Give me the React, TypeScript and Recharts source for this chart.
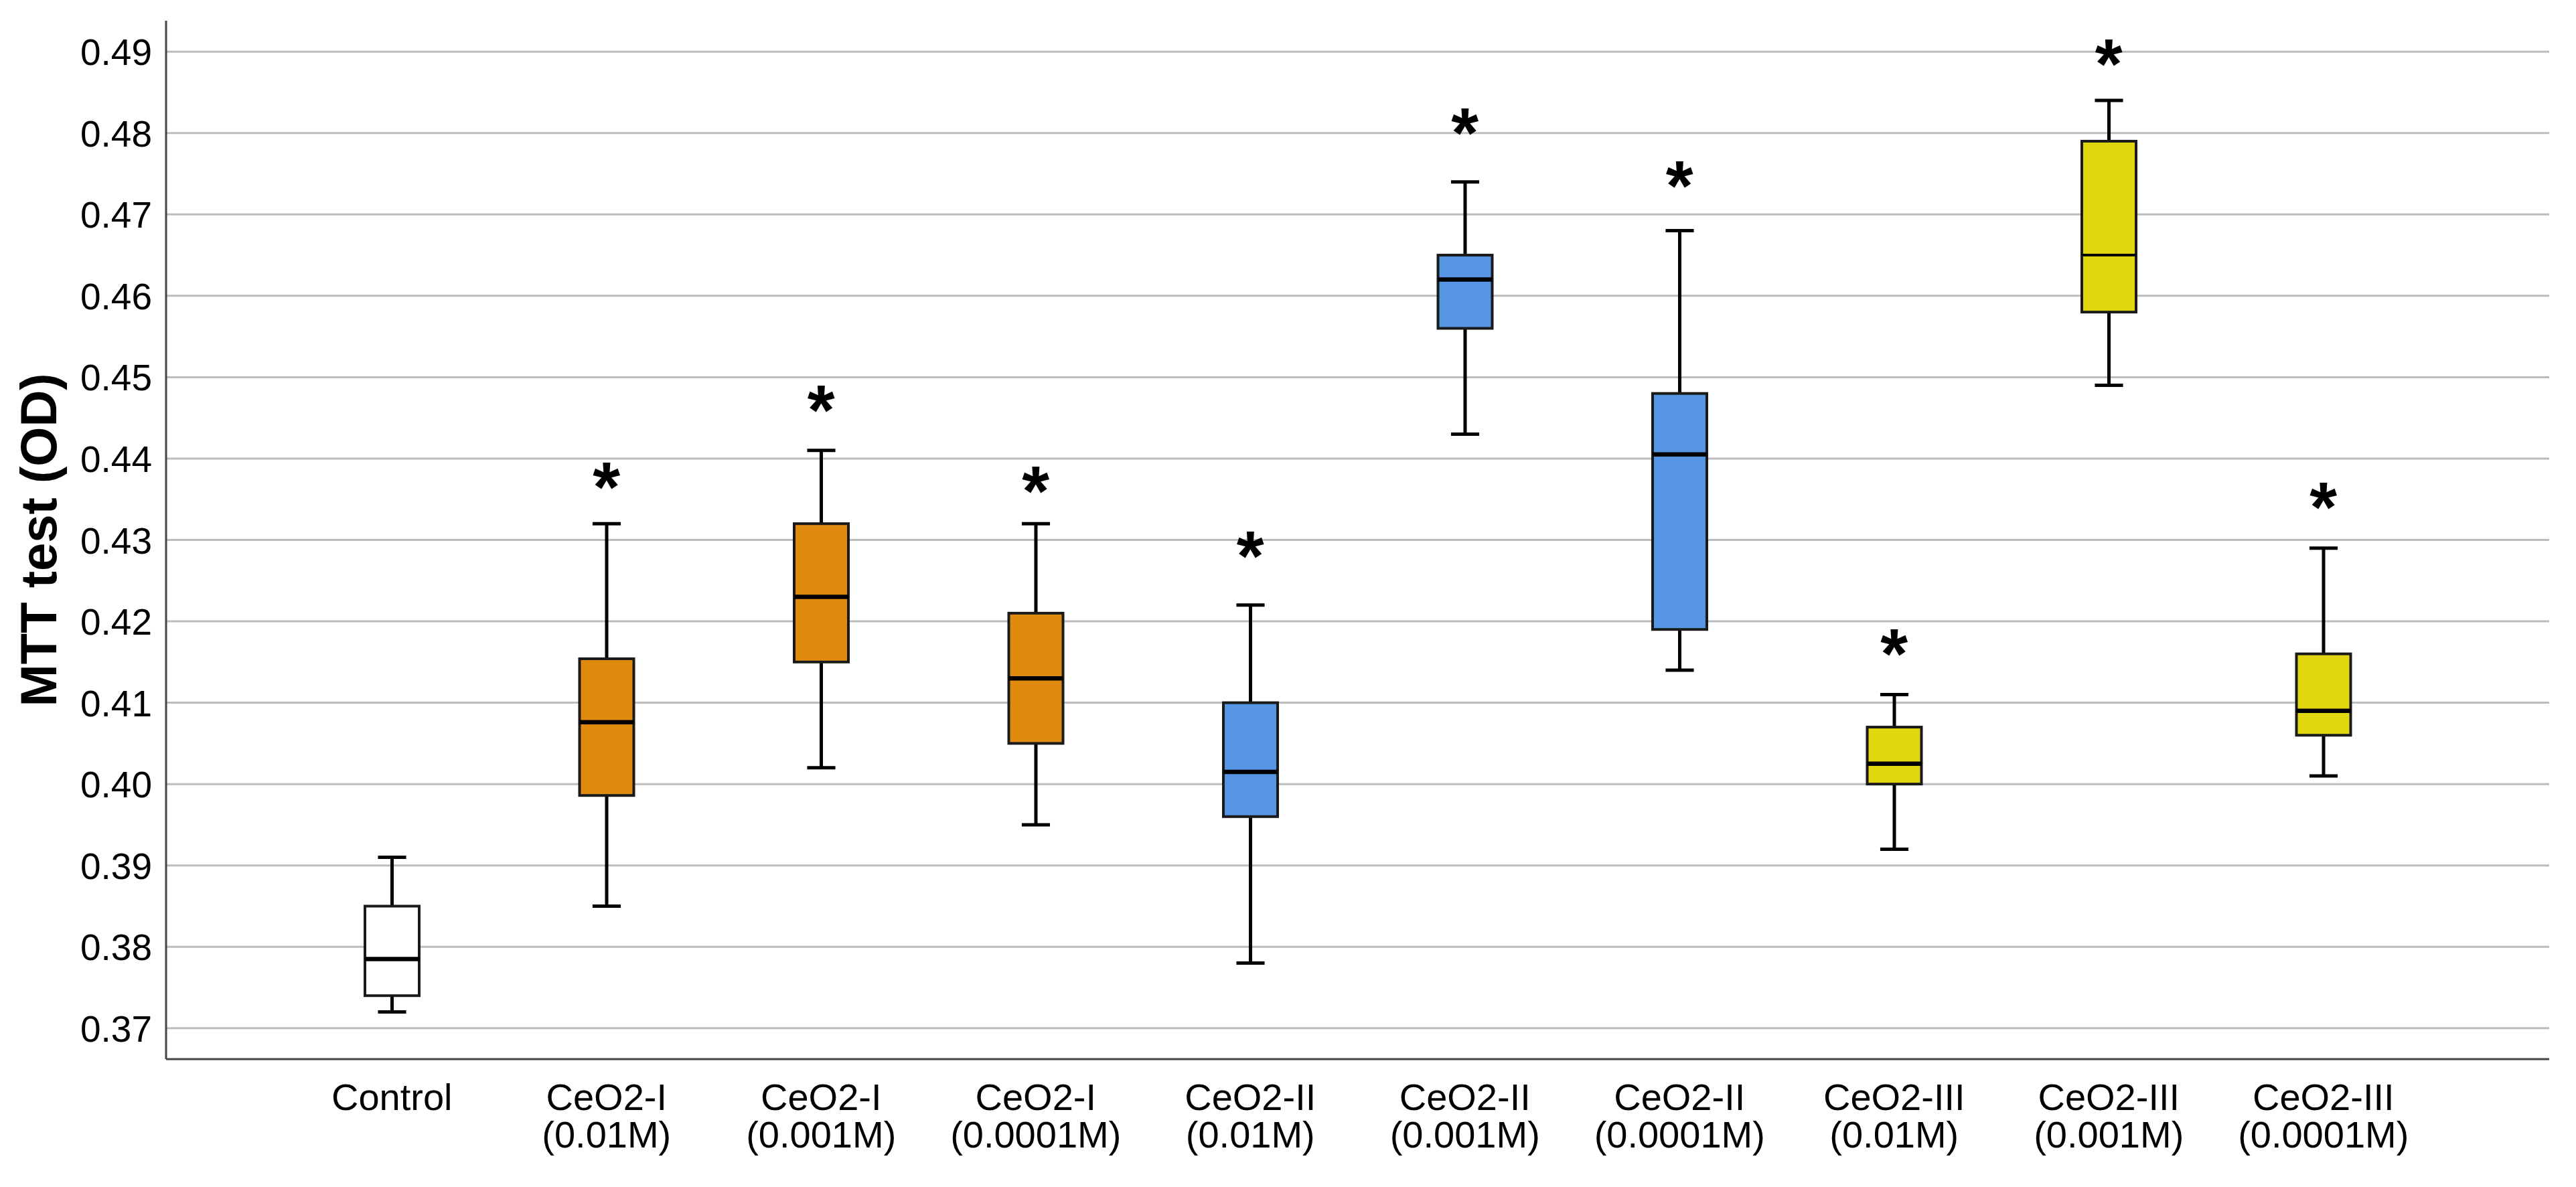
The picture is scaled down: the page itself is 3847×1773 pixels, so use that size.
import React from 'react';
import { Bar, CartesianGrid, ComposedChart, Scatter, XAxis, YAxis } from 'recharts';

const groups = ['Control', 'CeO2-I', 'CeO2-I', 'CeO2-I', 'CeO2-II', 'CeO2-II', 'CeO2-II', 'CeO2-III', 'CeO2-III', 'CeO2-III'];
const doses = ['', '(0.01M)', '(0.001M)', '(0.0001M)', '(0.01M)', '(0.001M)', '(0.0001M)', '(0.01M)', '(0.001M)', '(0.0001M)'];

// box plot statistics
const whiskerLow = [0.372, 0.385, 0.402, 0.395, 0.378, 0.443, 0.414, 0.392, 0.449, 0.401];
const q1 = [0.374, 0.3986, 0.415, 0.405, 0.396, 0.456, 0.419, 0.4, 0.458, 0.406];
const median = [0.3785, 0.4076, 0.423, 0.413, 0.4015, 0.462, 0.4405, 0.4025, 0.465, 0.409];
const q3 = [0.385, 0.4154, 0.432, 0.421, 0.41, 0.465, 0.448, 0.407, 0.479, 0.416];
const whiskerHigh = [0.391, 0.432, 0.441, 0.432, 0.422, 0.474, 0.468, 0.411, 0.484, 0.429];
// significance markers (*), none on Control
const stars = [null, 0.4385, 0.448, 0.438, 0.43, 0.482, 0.4755, 0.418, 0.4905, 0.436];

const yTicks = [0.37, 0.38, 0.39, 0.4, 0.41, 0.42, 0.43, 0.44, 0.45, 0.46, 0.47, 0.48, 0.49];

const GROUP_FILL: Record<string, string> = {
  Control: '#FFFFFF',
  'CeO2-I': '#E08A10',
  'CeO2-II': '#5595E3',
  'CeO2-III': '#E2D70F',
};

const FONT = "'Liberation Sans', Arial, sans-serif";
const STAR_SIZE = 105;

const data = groups.map((g, i) => ({
  name: doses[i] ? `${g} ${doses[i]}` : g,
  group: g,
  lo: whiskerLow[i],
  q1: q1[i],
  median: median[i],
  q3: q3[i],
  hi: whiskerHigh[i],
  star: stars[i],
}));

function BoxShape(props: any) {
  const { x, y, width, height, payload, index } = props;
  const top = Math.min(y, y + height);
  const h = Math.abs(height);
  const span = payload.hi - payload.lo;
  const py = (v: number) => top + ((payload.hi - v) / span) * h;
  const cx = x + width / 2;
  const cap = width * 0.52;
  const medianWidth = index === 8 ? 4 : 6.5;
  return (
    <g>
      <line x1={cx} x2={cx} y1={py(payload.hi)} y2={py(payload.q3)} stroke="#000" strokeWidth={5} />
      <line x1={cx} x2={cx} y1={py(payload.q1)} y2={py(payload.lo)} stroke="#000" strokeWidth={5} />
      <line x1={cx - cap / 2} x2={cx + cap / 2} y1={py(payload.hi)} y2={py(payload.hi)} stroke="#000" strokeWidth={5} />
      <line x1={cx - cap / 2} x2={cx + cap / 2} y1={py(payload.lo)} y2={py(payload.lo)} stroke="#000" strokeWidth={5} />
      <rect
        x={x}
        y={py(payload.q3)}
        width={width}
        height={py(payload.q1) - py(payload.q3)}
        fill={GROUP_FILL[payload.group]}
        stroke="#1a1a1a"
        strokeWidth={4}
      />
      <line x1={x} x2={x + width} y1={py(payload.median)} y2={py(payload.median)} stroke="#000" strokeWidth={medianWidth} />
    </g>
  );
}

function StarShape(props: any) {
  const { cx, cy, payload } = props;
  if (payload == null || payload.star == null || cy == null) return <g />;
  return (
    <text x={cx} y={cy + STAR_SIZE * 0.58} textAnchor="middle" fontSize={STAR_SIZE} fontWeight="bold" fontFamily={FONT} fill="#000">
      *
    </text>
  );
}

function XTick(props: any) {
  const { x, y, index } = props;
  return (
    <text x={x} y={y} textAnchor="middle" fontSize={56} fontFamily={FONT} fill="#000">
      <tspan x={x} dy={68}>{groups[index]}</tspan>
      {doses[index] ? <tspan x={x} dy={56}>{doses[index]}</tspan> : null}
    </text>
  );
}

function YTick(props: any) {
  const { x, y, payload } = props;
  return (
    <text x={x} y={y + 20} textAnchor="end" fontSize={55} fontFamily={FONT} fill="#000">
      {Number(payload.value).toFixed(2)}
    </text>
  );
}

function YLabel(props: any) {
  const { viewBox } = props;
  const cy = viewBox.y + viewBox.height / 2;
  const lx = 57;
  return (
    <text
      x={lx}
      y={cy}
      transform={`rotate(-90, ${lx}, ${cy})`}
      textAnchor="middle"
      dominantBaseline="central"
      fontSize={76}
      fontWeight="bold"
      fontFamily={FONT}
      fill="#000"
    >
      MTT test (OD)
    </text>
  );
}

export default function App() {
  return (
    <div style={{ position: 'absolute', left: 0, top: 0, background: '#fff' }}>
      <ComposedChart width={3847} height={1773} data={data} margin={{ top: 31, right: 40, bottom: 30, left: 0 }}>
        {/* syncWithTicks: lines only at the ticks, none on the plot's top edge */}
        <CartesianGrid vertical={false} syncWithTicks stroke="#BDBDBD" strokeWidth={3} />
        <XAxis
          dataKey="name"
          type="category"
          interval={0}
          padding={{ left: 177, right: 177 }}
          axisLine={{ stroke: '#444', strokeWidth: 3 }}
          tickLine={false}
          tick={<XTick />}
          height={161}
        />
        <YAxis
          type="number"
          domain={[0.3662, 0.4938]}
          ticks={yTicks}
          allowDataOverflow
          width={248}
          axisLine={{ stroke: '#444', strokeWidth: 3 }}
          tickLine={false}
          tickMargin={15}
          tick={<YTick />}
          label={{ content: <YLabel /> }}
        />
        <Bar dataKey={(d: any) => [d.lo, d.hi]} barSize={81} shape={<BoxShape />} isAnimationActive={false} />
        <Scatter dataKey="star" shape={<StarShape />} isAnimationActive={false} />
      </ComposedChart>
    </div>
  );
}
